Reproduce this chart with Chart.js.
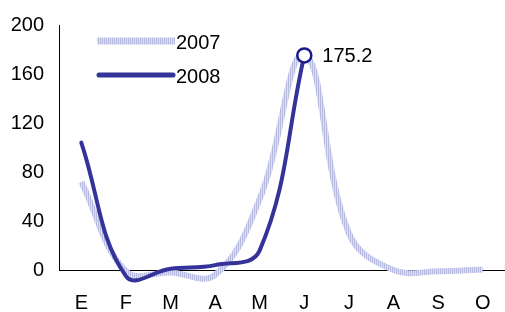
<!DOCTYPE html>
<html>
<head>
<meta charset="utf-8">
<script src="https://cdn.jsdelivr.net/npm/chart.js@4"></script>
<style>
html,body{margin:0;padding:0;background:#fff;}
#wrap{width:505px;height:312px;}
</style>
</head>
<body>
<div id="wrap"><canvas id="c" width="505" height="312"></canvas></div>
<script>
const categories = ['E','F','M','A','M','J','J','A','S','O'];
const series2007 = [72, -1, -2, -4, 58, 176, 30, 0, -1, 0.5];
const series2008 = [104, -5, 1, 4, 16, 175.2, null, null, null, null];
const yTicks = [0, 40, 80, 120, 160, 200];
const seriesNames = ['2007', '2008'];
const peakLabel = '175.2';

const FONT = '"Liberation Sans", Arial, sans-serif';

// striped pattern for the 2007 line
const pc = document.createElement('canvas');
pc.width = 2; pc.height = 2;
const pctx = pc.getContext('2d');
pctx.fillStyle = '#b8bbe0'; pctx.fillRect(0,0,1,2);
pctx.fillStyle = '#dcdef2'; pctx.fillRect(1,0,1,2);
const ctx = document.getElementById('c').getContext('2d');
const stripe = ctx.createPattern(pc, 'repeat');

const overlay = {
  id: 'overlay',
  afterDatasetsDraw(chart) {
    const c = chart.ctx;
    c.save();
    // legend
    c.lineCap = 'butt';
    c.strokeStyle = stripe; c.lineWidth = 7;
    c.beginPath(); c.moveTo(97, 41); c.lineTo(175, 41); c.stroke();
    c.strokeStyle = '#333399'; c.lineWidth = 5; c.lineCap = 'round';
    c.beginPath(); c.moveTo(99, 75); c.lineTo(173, 75); c.stroke();
    c.fillStyle = '#000'; c.font = '20px ' + FONT; c.textBaseline = 'middle'; c.textAlign = 'left';
    c.fillText(seriesNames[0], 176, 43);
    c.fillText(seriesNames[1], 176, 77);
    // peak label
    const meta = chart.getDatasetMeta(0);
    const pt = meta.data[5];
    c.fillText(peakLabel, pt.x + 18, pt.y + 1);
    c.restore();
  }
};

new Chart(ctx, {
  type: 'line',
  data: {
    labels: categories,
    datasets: [
      {
        label: seriesNames[1], data: series2008,
        borderColor: '#333399', borderWidth: 4, tension: 0.4,
        borderCapStyle: 'round',
        pointRadius: series2008.map((v,i)=> i===5 ? 7 : 0),
        pointBackgroundColor: '#ffffff', pointBorderColor: '#1a1a8c', pointBorderWidth: 2.5,
        clip: false, spanGaps: false
      },
      {
        label: seriesNames[0], data: series2007,
        borderColor: stripe, borderWidth: 6, tension: 0.4,
        pointRadius: 0, clip: false, borderCapStyle: 'butt'
      }
    ]
  },
  options: {
    responsive: false,
    animation: false,
    devicePixelRatio: 1,
    layout: { padding: { top: 25, right: 0, left: 0, bottom: 0 } },
    plugins: { legend: { display: false }, tooltip: { enabled: false } },
    scales: {
      x: {
        offset: true,
        grid: { display: false, drawTicks: false },
        border: { display: true, color: '#000', width: 1 },
        ticks: { color: '#000', font: { family: FONT, size: 20 }, padding: 21, maxRotation: 0, autoSkip: false },
        afterFit(s) { s.height = 42; s.paddingLeft = 0; s.paddingRight = 0; }
      },
      y: {
        min: 0, max: 200,
        afterBuildTicks(s) { s.ticks = yTicks.map(v => ({ value: v })); },
        grid: { display: false, drawTicks: false },
        border: { display: true, color: '#000', width: 1 },
        ticks: { color: '#000', font: { family: FONT, size: 20 }, padding: 15 },
        afterFit(s) { s.width = 59; s.paddingTop = 0; s.paddingBottom = 0; }
      }
    }
  },
  plugins: [overlay]
});
</script>
</body>
</html>
